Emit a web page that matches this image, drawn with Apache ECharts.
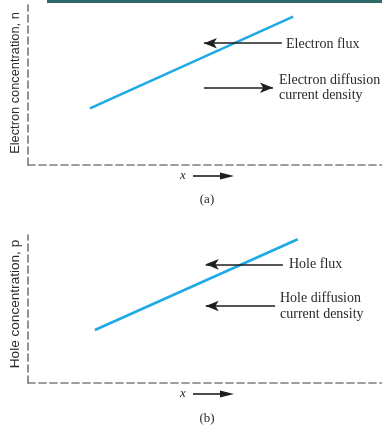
<!DOCTYPE html>
<html>
<head>
<meta charset="utf-8">
<script src="https://cdn.jsdelivr.net/npm/echarts@6/dist/echarts.min.js"></script>
<style>
  html, body { margin: 0; padding: 0; background: #ffffff; }
  #chart { width: 382px; height: 427px; }
</style>
</head>
<body>
<div id="chart"></div>
<script>
// Concentration profiles (arbitrary units on a 0..10 scale)
const electronX = [1.75, 7.49];
const electronN = [3.54, 9.27];
const holeX = [1.89, 7.62];
const holeP = [3.58, 9.71];

// Flux / current-density arrows: [fromX, toX, y]
const electronFluxArrow = [7.17, 4.97, 7.61];
const electronCurrentArrow = [4.97, 6.92, 4.83];
const holeFluxArrow = [7.20, 5.02, 8.02];
const holeCurrentArrow = [6.98, 5.02, 5.20];

// Text
const yTitles = ['Electron concentration, n', 'Hole concentration, p'];
const fluxLabels = ['Electron flux', 'Hole flux'];
const currentLabels = [['Electron diffusion', 'current density'], ['Hole diffusion', 'current density']];
const panelTags = ['(a)', '(b)'];

const chart = echarts.init(document.getElementById('chart'));

const curveColor = '#1fa9e6';
const arrowColor = '#1e1e1e';
const axisColor = '#7f7f7f';
const textColor = '#2a2a2a';
const serif = '"Liberation Serif", "DejaVu Serif", serif';
const sans = '"Liberation Sans", Arial, sans-serif';

function axisLine() {
  return { show: true, lineStyle: { color: axisColor, width: 1.7, type: [7, 4] } };
}

function arrowMark(a) {
  return [
    { coord: [a[0], a[2]], symbol: 'none' },
    { coord: [a[1], a[2]], symbol: 'arrow', symbolSize: [8, 13] }
  ];
}

function panelSeries(idx, xs, ys, flux, current) {
  return {
    type: 'line',
    xAxisIndex: idx,
    yAxisIndex: idx,
    data: xs.map((x, i) => [x, ys[i]]),
    symbol: 'none',
    silent: true,
    lineStyle: { color: curveColor, width: 2.6 },
    markLine: {
      silent: true,
      animation: false,
      symbol: ['none', 'arrow'],
      label: { show: false },
      lineStyle: { color: arrowColor, width: 1.6, type: 'solid' },
      data: [arrowMark(flux), arrowMark(current)]
    },
    z: 3
  };
}

// x-direction arrow drawn beneath each panel
function xArrow(y) {
  return {
    type: 'group',
    children: [
      { type: 'text', x: 183, y: y, style: { text: 'x', font: 'italic 13px ' + serif, fill: textColor, textAlign: 'center', textVerticalAlign: 'middle' } },
      { type: 'line', shape: { x1: 193, y1: y, x2: 222, y2: y }, style: { stroke: arrowColor, lineWidth: 1.6 } },
      { type: 'polygon', shape: { points: [[234, y], [220, y - 3.5], [220, y + 3.5]] }, style: { fill: arrowColor } }
    ]
  };
}

function text(x, y, str, opts) {
  return {
    type: 'text', x: x, y: y,
    style: Object.assign({ text: str, font: '14px ' + serif, fill: textColor, textVerticalAlign: 'middle' }, opts || {})
  };
}

chart.setOption({
  animation: false,
  grid: [
    { left: 28, top: 5, width: 354, height: 160 },
    { left: 28, top: 235, width: 354, height: 148 }
  ],
  xAxis: [0, 1].map(i => ({
    type: 'value', gridIndex: i, min: 0, max: 10,
    axisLine: axisLine(), axisTick: { show: false }, axisLabel: { show: false }, splitLine: { show: false }
  })),
  yAxis: [0, 1].map(i => ({
    type: 'value', gridIndex: i, min: 0, max: 10,
    axisLine: axisLine(), axisTick: { show: false }, axisLabel: { show: false }, splitLine: { show: false }
  })),
  series: [
    panelSeries(0, electronX, electronN, electronFluxArrow, electronCurrentArrow),
    panelSeries(1, holeX, holeP, holeFluxArrow, holeCurrentArrow)
  ],
  graphic: [
    { type: 'rect', shape: { x: 47, y: 0, width: 335, height: 3 }, style: { fill: '#2f6866' } },
    // axis titles
    { type: 'text', x: 15, y: 83, rotation: Math.PI / 2,
      style: { text: yTitles[0], font: '12.8px ' + sans, fill: textColor, textAlign: 'center', textVerticalAlign: 'middle' } },
    { type: 'text', x: 15, y: 304, rotation: Math.PI / 2,
      style: { text: yTitles[1], font: '13.6px ' + sans, fill: textColor, textAlign: 'center', textVerticalAlign: 'middle' } },
    // panel (a) annotations
    text(286, 44, fluxLabels[0]),
    text(279, 80, currentLabels[0][0]),
    text(279, 95, currentLabels[0][1]),
    xArrow(176),
    text(207, 200, panelTags[0], { textAlign: 'center', font: '13px ' + serif }),
    // panel (b) annotations
    text(289, 264, fluxLabels[1]),
    text(280, 298, currentLabels[1][0]),
    text(280, 314, currentLabels[1][1]),
    xArrow(394),
    text(207, 419, panelTags[1], { textAlign: 'center', font: '13px ' + serif })
  ]
});
</script>
</body>
</html>
